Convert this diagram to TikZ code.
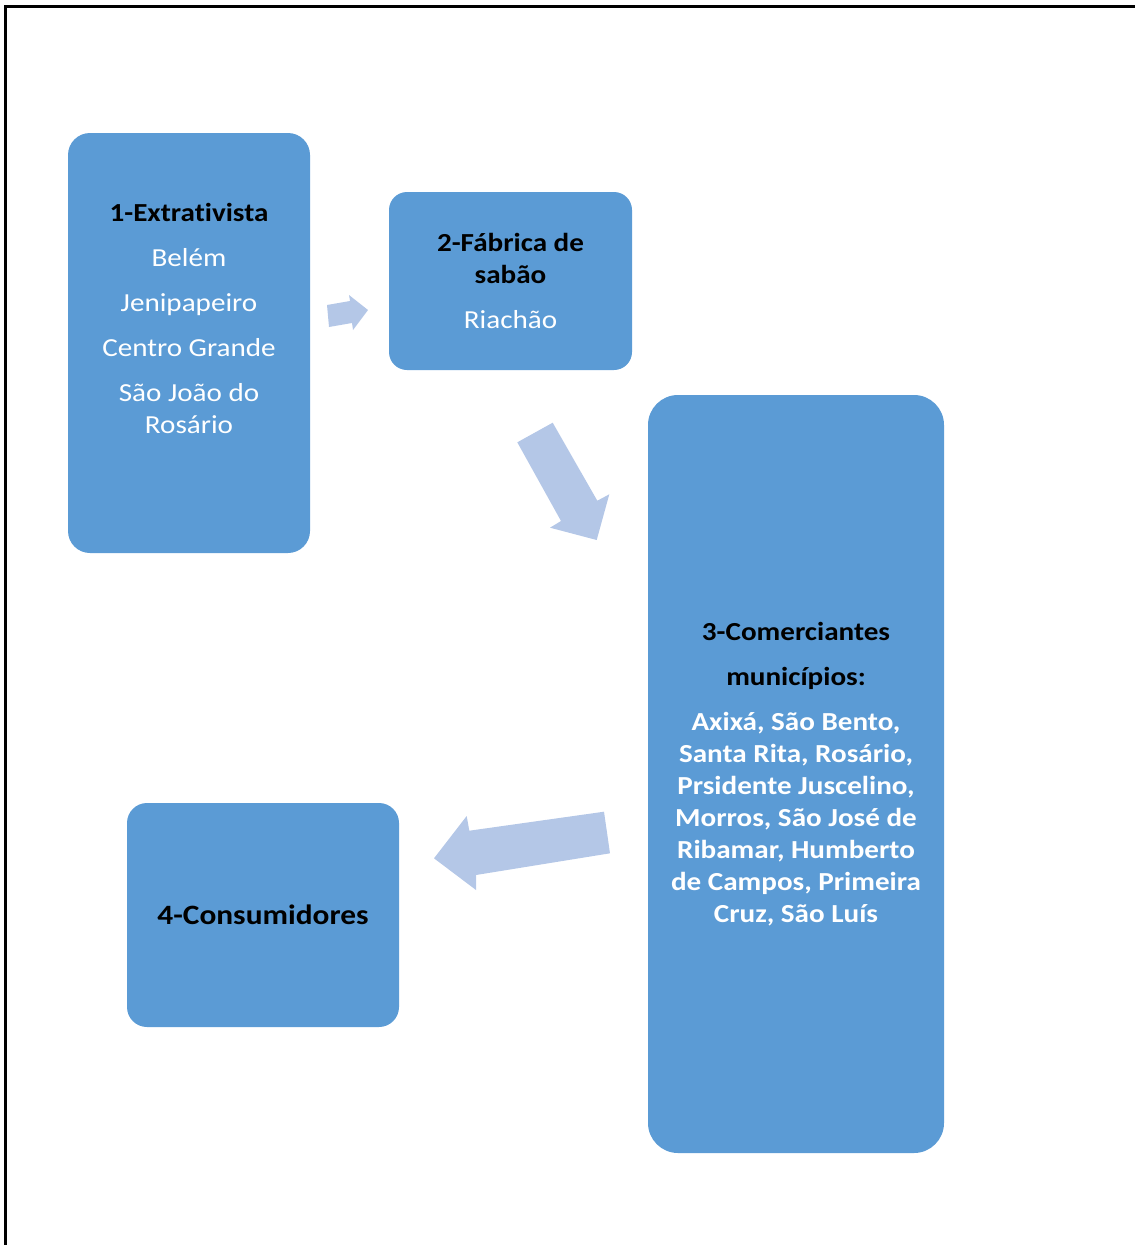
\documentclass[tikz,border=0pt]{standalone}
\usepackage{fontspec}
\setmainfont{Carlito}[FakeStretch=1.12, Ligatures=NoCommon]
\definecolor{boxblue}{HTML}{5B9BD5}
\definecolor{arrowblue}{HTML}{B4C7E7}
\begin{document}
\begin{tikzpicture}[x=1pt,y=-1pt,
  box/.style={fill=boxblue, draw=none, inner sep=0pt},
  txt/.style={align=center, text=white, inner sep=0pt, font=\fontsize{26}{32}\selectfont},
  flow/.style={fill=arrowblue, draw=none}]
\useasboundingbox (0,0) rectangle (1135,1245);
% frame
\draw[line width=3pt] (5.5,1245) -- (5.5,6) -- (1135,6);
% boxes
\node[box, rounded corners=22pt, minimum width=242pt, minimum height=420pt] (b1) at (189,343) {};
\node[txt] (t1) at (189,318) {\textcolor{black}{\bfseries 1-Extrativista}\\[13pt]Belém\\[13pt]Jenipapeiro\\[13pt]Centro Grande\\[13pt]São João do\\Rosário};
\node[box, txt, rounded corners=18pt, minimum width=243pt, minimum height=178pt] (b2) at (510.5,281) {\textcolor{black}{\bfseries 2-Fábrica de}\\\textcolor{black}{\bfseries sabão}\\[13pt]Riachão};
\node[box, txt, rounded corners=30pt, minimum width=296pt, minimum height=758pt, font=\fontsize{26}{32}\selectfont\bfseries] (b3) at (796,774) {\textcolor{black}{3-Comerciantes}\\[13pt]\textcolor{black}{municípios:}\\[13pt]Axixá, São Bento,\\Santa Rita, Rosário,\\Prsidente Juscelino,\\Morros, São José de\\Ribamar, Humberto\\de Campos, Primeira\\Cruz, São Luís};
\node[box, txt, text=black, rounded corners=20pt, minimum width=272pt, minimum height=224pt, font=\fontsize{28}{34}\selectfont\bfseries] (b4) at (263,915) {4-Consumidores};
% arrows
\path[flow] (327,305) -- (350,301) -- (349,295) -- (368,310) -- (353,330) -- (352,323) -- (329,327) -- cycle;
\path[flow] (517.3,442.3) -- (552.7,422.7) -- (597.3,500.7) -- (609.3,494.3) -- (596.7,540) -- (550,527.7) -- (561,521) -- cycle;
\path[flow] (604,811.7) -- (610,853.3) -- (476,875) -- (476,890) -- (434,858.3) -- (466.7,816) -- (469.3,830.7) -- cycle;
\end{tikzpicture}
\end{document}
